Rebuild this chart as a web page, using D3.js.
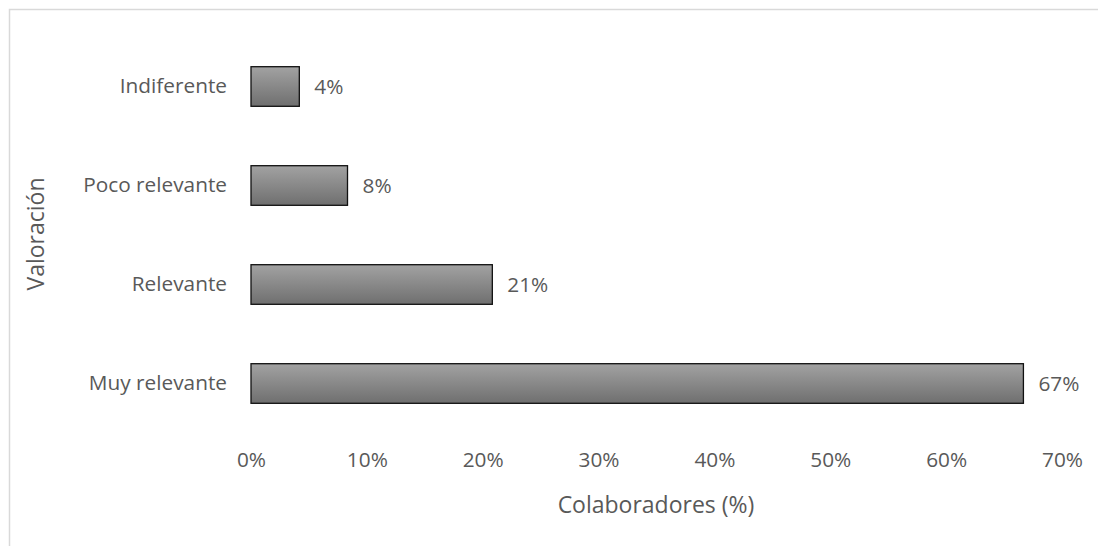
<!DOCTYPE html>
<html>
<head>
<meta charset="utf-8">
<script src="https://cdn.jsdelivr.net/npm/d3@7"></script>
<style>
  body { margin: 0; background: #fff; }
  text { font-family: 'Open Sans', 'Noto Sans', sans-serif; fill: #595959; }
</style>
</head>
<body>
<div id="chart"></div>
<script>
const categories = ['Indiferente', 'Poco relevante', 'Relevante', 'Muy relevante']
const values = [4.17, 8.33, 20.83, 66.67]
const ticks = [0, 10, 20, 30, 40, 50, 60, 70]

const width = 1098
const height = 546
const labelSize = 20.8
const titleSize = 23
const font = "'Open Sans', 'Noto Sans', sans-serif"

const svg = d3.select('#chart')
  .append('svg')
  .attr('width', width)
  .attr('height', height)

// chart area border (right/bottom fall outside the picture)
svg.append('rect')
  .attr('x', 9.5).attr('y', 9.5)
  .attr('width', 1200).attr('height', 700)
  .attr('fill', 'none')
  .attr('stroke', '#d9d9d9')
  .attr('stroke-width', 1.5)

const defs = svg.append('defs')
const grad = defs.append('linearGradient')
  .attr('id', 'barGrad')
  .attr('x1', 0).attr('y1', 0).attr('x2', 0).attr('y2', 1)
grad.append('stop').attr('offset', '0%').attr('stop-color', '#a2a2a2')
grad.append('stop').attr('offset', '100%').attr('stop-color', '#6f6f6f')

const x = d3.scaleLinear().domain([0, 70]).range([251, 1062])
const y = d3.scaleBand().domain(categories).range([37, 433]).paddingInner(0.6).paddingOuter(0.3)

const rows = categories.map((c, i) => ({ cat: c, value: values[i] }))

svg.append('g').selectAll('rect')
  .data(rows)
  .enter().append('rect')
  .attr('x', x(0))
  .attr('y', d => y(d.cat))
  .attr('width', d => x(d.value) - x(0))
  .attr('height', y.bandwidth())
  .attr('fill', 'url(#barGrad)')
  .attr('stroke', '#111')
  .attr('stroke-width', 1.3)

// value labels
svg.append('g').selectAll('text')
  .data(rows)
  .enter().append('text')
  .attr('x', d => x(d.value) + 15)
  .attr('y', d => y(d.cat) + y.bandwidth() / 2)
  .attr('dy', '0.35em')
  .attr('font-size', labelSize)
  .text(d => Math.round(d.value) + '%')

// y axis labels
const yAxis = d3.axisLeft(y).tickSize(0).tickPadding(24)
const yg = svg.append('g').attr('transform', `translate(${x(0)},0)`).call(yAxis)
yg.select('.domain').remove()
yg.selectAll('text').attr('font-size', labelSize).attr('fill', '#595959')
  .style('font-family', font)

// x axis labels
const xAxis = d3.axisBottom(x).tickValues(ticks).tickSize(0).tickPadding(0)
  .tickFormat(d => d + '%')
const xg = svg.append('g').attr('transform', 'translate(0,452)').call(xAxis)
xg.select('.domain').remove()
xg.selectAll('text').attr('font-size', labelSize).attr('fill', '#595959')
  .style('font-family', font)

// axis titles
svg.append('text')
  .attr('x', 656).attr('y', 513)
  .attr('text-anchor', 'middle')
  .attr('font-size', titleSize)
  .text('Colaboradores (%)')

svg.append('text')
  .attr('transform', 'translate(44,234) rotate(-90)')
  .attr('text-anchor', 'middle')
  .attr('font-size', titleSize)
  .text('Valoración')
</script>
</body>
</html>
